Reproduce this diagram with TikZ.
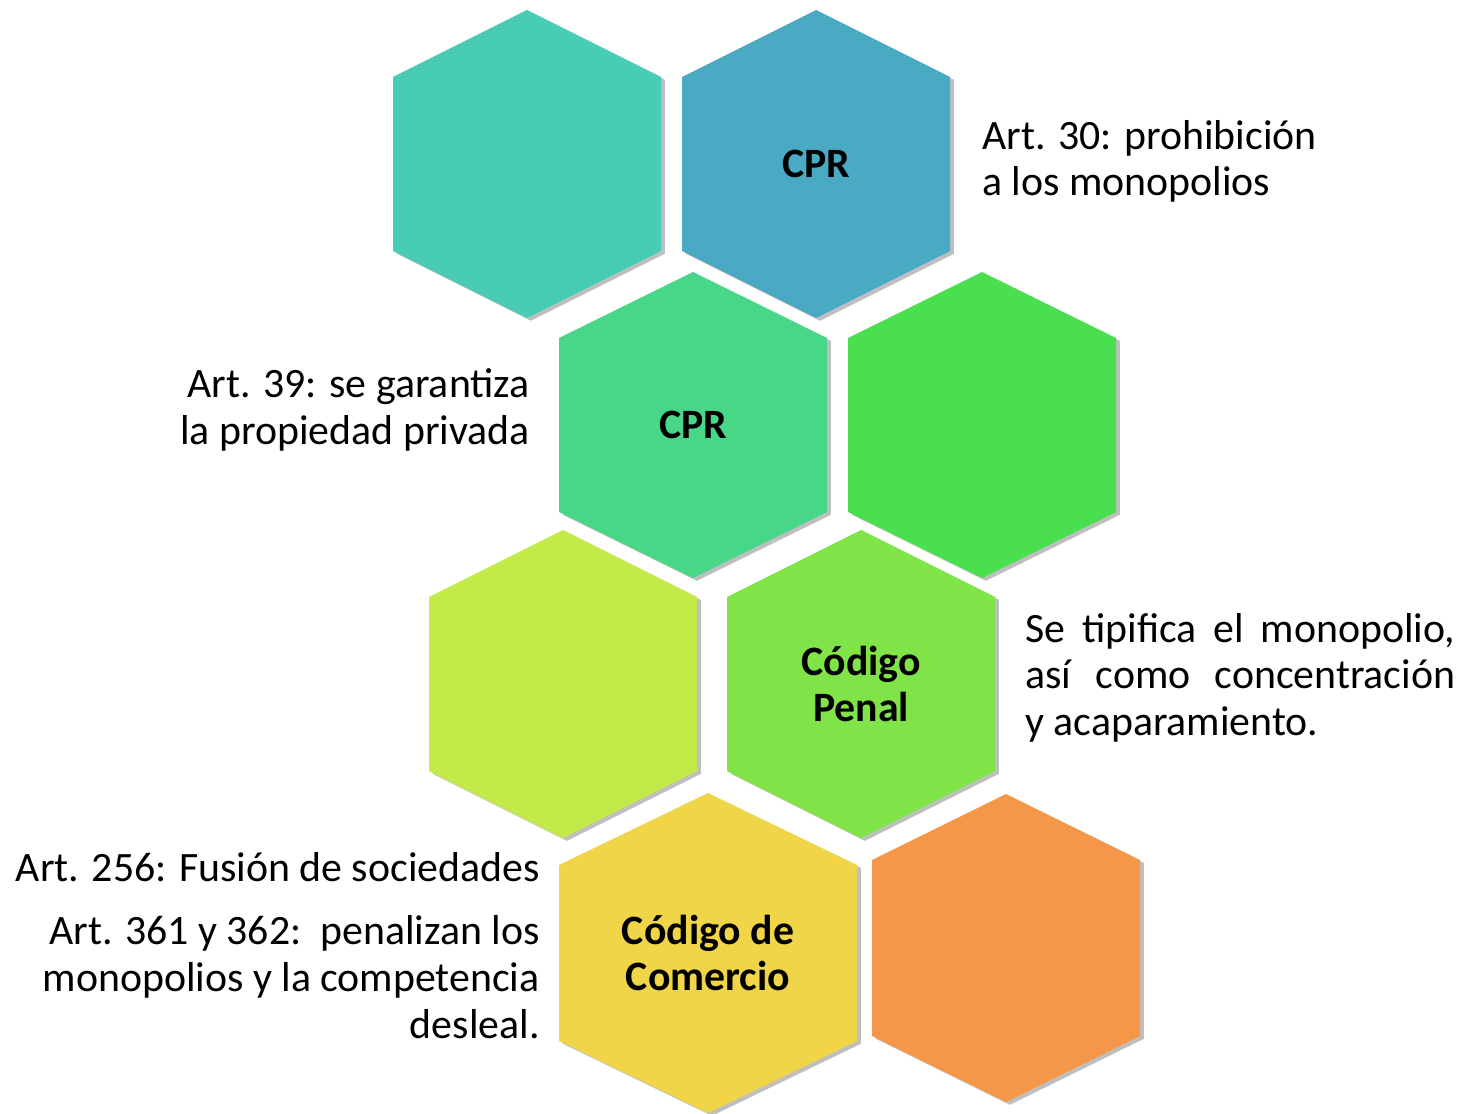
\documentclass[tikz,border=0pt]{standalone}
\usepackage{fontspec}
\setmainfont{Carlito}
\usetikzlibrary{shadows}

\definecolor{tealhex}{RGB}{72,205,180}
\definecolor{bluehex}{RGB}{74,170,196}
\definecolor{mintgreen}{RGB}{72,214,136}
\definecolor{brightgreen}{RGB}{74,223,78}
\definecolor{limehex}{RGB}{194,234,72}
\definecolor{grasshex}{RGB}{128,228,72}
\definecolor{yellowhex}{RGB}{240,213,72}
\definecolor{orangehex}{RGB}{245,151,72}

\tikzset{
  hexa/.style={drop shadow={shadow xshift=2.2pt, shadow yshift=-1.6pt, opacity=.5}},
  hexlabel/.style={font=\fontsize{23.8}{26.6}\selectfont\bfseries, align=center, inner sep=0},
  artnote/.style={font=\fontsize{23.8}{26.6}\selectfont, inner sep=0}
}

\begin{document}
\begin{tikzpicture}[x=0.02cm, y=-0.02cm]
\useasboundingbox (0,0) rectangle (1462,1114);

% honeycomb
\foreach \cx/\cy/\hw/\hh/\hs/\col/\nm in {
    527/164/134/154/87/tealhex/hexA,
    816/164/134/154/87/bluehex/hexB,
    693/425/134/153/87/mintgreen/hexC,
    982/425/134/153/87/brightgreen/hexD,
    563/684/134/154/87/limehex/hexE,
    861/684/134/154/87/grasshex/hexF,
    708/953/149/160/88/yellowhex/hexG,
    1006/948/134/154/88/orangehex/hexH}
{
  \pgfmathsetmacro{\tip}{\hh-\hs}
  \fill[hexa, fill=\col] (\cx,\cy) ++(0,-\hh) -- ++(\hw,\tip) -- ++(0,2*\hs)
      -- ++(-\hw,\tip) -- ++(-\hw,-\tip) -- ++(0,-2*\hs) -- cycle;
  \coordinate (\nm) at (\cx,\cy);
}

% labels inside
\node[hexlabel] (cprtop) at (hexB) {CPR};
\node[hexlabel] (cprmid) at (hexC) {CPR};
\node[hexlabel] (penal) at (hexF) {Código\\Penal};
\node[hexlabel] (comercio) at (hexG) {Código de\\Comercio};

% notes (base = last line)
\node[artnote, anchor=base west, align=left] (art30) at (982,196)
  {Art. 30: prohibición\\a los monopolios};
\node[artnote, anchor=base east, align=right] (art39) at (530,444)
  {Art. 39: se garantiza\\la propiedad privada};
\node[artnote, anchor=base west, align=justify, text width=8.6cm] (tipifica) at (1025,642)
  {Se tipifica el monopolio,\linebreak así como concentración\linebreak y acaparamiento.};
\node[artnote, anchor=base east, align=right] (art256) at (540,881)
  {Art. 256: Fusión de sociedades};
\node[artnote, anchor=base east, align=right] (art361) at (540,1038)
  {Art. 361 y 362:\ \ penalizan los\\monopolios y la competencia\\desleal.};
\end{tikzpicture}
\end{document}
